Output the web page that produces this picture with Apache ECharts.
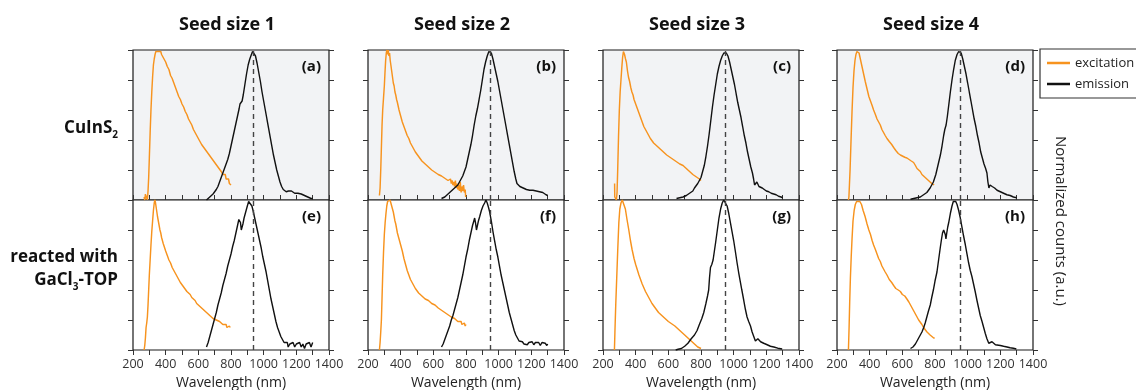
<!DOCTYPE html>
<html><head><meta charset="utf-8">
<script src="https://cdn.jsdelivr.net/npm/echarts@6/dist/echarts.min.js"></script>
<style>html,body{margin:0;padding:0;background:#fff}#c{width:1136px;height:390px}</style>
</head><body><div id="c"></div>
<script>
// ---------- text / categories ----------
const columnTitles = ['Seed size 1', 'Seed size 2', 'Seed size 3', 'Seed size 4'];
const panelLabels = [['(a)', '(b)', '(c)', '(d)'], ['(e)', '(f)', '(g)', '(h)']];
const seriesNames = ['excitation', 'emission'];
const xAxisName = 'Wavelength (nm)';
const yAxisName = 'Normalized counts (a.u.)';
const xMin = 200, xMax = 1400, xTickStep = 100, xLabelStep = 200;
const yMin = 0, yMax = 1, yTickStep = 0.2;
// emission peak of the seeds (dashed line), per column
const peakLines = [935, 947, 947, 955];

// ---------- data: [wavelength nm, normalized counts] ----------
const excA = [[268,0.02],[272,0.0],[276,0.04],[280,0.01],[284,0.03],[288,0.0],[292,0.06],[296,0.15],[300,0.28],[305,0.45],[310,0.6],[315,0.72],[320,0.82],[325,0.9],[330,0.94],[335,0.97],[340,0.99],[345,0.98],[350,1.0],[355,0.99],[360,1.0],[365,0.98],[370,0.99],[375,0.97],[380,0.96],[390,0.94],[400,0.92],[410,0.89],[420,0.87],[430,0.83],[440,0.81],[450,0.78],[460,0.75],[470,0.72],[480,0.69],[490,0.67],[500,0.64],[510,0.62],[520,0.59],[530,0.57],[540,0.54],[550,0.52],[560,0.5],[570,0.47],[580,0.46],[590,0.43],[600,0.41],[610,0.39],[620,0.37],[630,0.36],[640,0.34],[650,0.33],[660,0.31],[670,0.3],[680,0.28],[690,0.27],[700,0.25],[710,0.24],[720,0.22],[730,0.21],[740,0.19],[745,0.2],[750,0.17],[760,0.16],[765,0.17],[770,0.14],[780,0.13],[785,0.14],[790,0.11],[795,0.12],[800,0.1]];
const emA = [[650,0.0],[660,0.01],[670,0.02],[680,0.03],[690,0.04],[700,0.055],[710,0.07],[720,0.09],[730,0.12],[740,0.15],[750,0.18],[760,0.21],[770,0.24],[780,0.27],[790,0.31],[800,0.36],[810,0.41],[820,0.46],[830,0.51],[840,0.56],[850,0.61],[855,0.64],[860,0.65],[868,0.66],[875,0.7],[885,0.77],[895,0.84],[905,0.9],[915,0.94],[925,0.97],[932,0.99],[937,1.0],[942,0.99],[950,0.96],[960,0.91],[970,0.85],[980,0.79],[990,0.72],[1000,0.66],[1010,0.6],[1020,0.54],[1030,0.48],[1040,0.42],[1050,0.36],[1060,0.3],[1070,0.25],[1080,0.2],[1090,0.16],[1100,0.12],[1110,0.09],[1120,0.07],[1130,0.06],[1138,0.055],[1145,0.065],[1152,0.06],[1160,0.055],[1170,0.06],[1180,0.05],[1190,0.045],[1200,0.04],[1210,0.045],[1220,0.035],[1230,0.04],[1240,0.03],[1250,0.03],[1260,0.025],[1270,0.02],[1280,0.025],[1290,0.01],[1300,0.01]];
const excB = [[270,0.03],[274,0.08],[278,0.2],[282,0.35],[286,0.5],[290,0.6],[295,0.68],[300,0.76],[304,0.85],[308,0.93],[312,0.98],[316,1.0],[320,0.97],[324,1.0],[328,0.96],[332,0.98],[336,0.93],[340,0.9],[345,0.86],[350,0.82],[355,0.78],[360,0.76],[365,0.72],[370,0.7],[375,0.67],[380,0.65],[390,0.6],[400,0.56],[410,0.52],[420,0.49],[430,0.46],[440,0.43],[450,0.41],[460,0.38],[470,0.36],[480,0.34],[490,0.32],[500,0.31],[510,0.29],[520,0.28],[530,0.26],[540,0.25],[550,0.24],[560,0.23],[570,0.22],[580,0.21],[590,0.2],[600,0.19],[610,0.185],[620,0.18],[630,0.17],[640,0.165],[650,0.16],[660,0.15],[670,0.145],[680,0.14],[690,0.13],[700,0.12],[705,0.14],[710,0.11],[715,0.13],[720,0.1],[725,0.12],[730,0.09],[735,0.13],[740,0.08],[745,0.11],[750,0.07],[755,0.1],[760,0.06],[765,0.12],[770,0.05],[775,0.09],[780,0.06],[785,0.1],[790,0.05],[795,0.07],[798,0.02]];
const emB = [[650,0.01],[660,0.02],[670,0.02],[680,0.03],[690,0.04],[700,0.05],[710,0.06],[720,0.07],[730,0.08],[740,0.09],[750,0.1],[760,0.12],[770,0.14],[780,0.16],[790,0.19],[800,0.22],[810,0.27],[820,0.32],[830,0.37],[840,0.43],[850,0.5],[860,0.56],[870,0.61],[880,0.67],[890,0.73],[900,0.8],[910,0.87],[920,0.92],[930,0.96],[940,0.99],[947,1.0],[955,0.98],[965,0.94],[975,0.89],[985,0.84],[995,0.79],[1005,0.73],[1015,0.67],[1025,0.61],[1035,0.55],[1045,0.49],[1055,0.43],[1065,0.37],[1075,0.31],[1085,0.25],[1095,0.19],[1105,0.14],[1112,0.11],[1120,0.1],[1130,0.09],[1140,0.085],[1150,0.08],[1160,0.075],[1170,0.07],[1180,0.07],[1190,0.065],[1200,0.06],[1210,0.065],[1220,0.055],[1230,0.06],[1240,0.05],[1250,0.055],[1260,0.045],[1270,0.05],[1280,0.04],[1290,0.035],[1300,0.03]];
const excC = [[271,0.11],[272,0.02],[282,0.0],[286,0.05],[290,0.2],[295,0.42],[300,0.6],[305,0.72],[310,0.8],[315,0.88],[320,0.95],[325,0.99],[328,1.0],[332,0.97],[338,0.94],[343,0.92],[350,0.86],[356,0.82],[363,0.79],[370,0.75],[377,0.72],[384,0.7],[390,0.67],[400,0.64],[410,0.61],[420,0.58],[430,0.55],[440,0.52],[450,0.49],[460,0.47],[470,0.45],[480,0.43],[490,0.41],[500,0.4],[510,0.38],[520,0.37],[530,0.36],[540,0.35],[550,0.34],[560,0.33],[570,0.32],[580,0.31],[590,0.3],[600,0.29],[610,0.285],[620,0.28],[630,0.27],[640,0.26],[650,0.255],[660,0.25],[670,0.24],[680,0.235],[690,0.23],[700,0.22],[710,0.21],[720,0.2],[730,0.19],[740,0.18],[750,0.17],[760,0.16],[770,0.155],[780,0.15],[790,0.14],[800,0.13]];
const emC = [[650,0.01],[670,0.015],[690,0.02],[710,0.03],[730,0.045],[750,0.06],[760,0.08],[770,0.09],[780,0.11],[790,0.13],[800,0.15],[810,0.19],[820,0.23],[830,0.29],[840,0.36],[850,0.44],[860,0.53],[870,0.62],[880,0.7],[890,0.77],[900,0.84],[910,0.89],[920,0.93],[930,0.96],[940,0.98],[947,0.99],[955,0.98],[965,0.96],[975,0.92],[985,0.87],[995,0.82],[1005,0.77],[1015,0.71],[1025,0.65],[1035,0.6],[1045,0.55],[1055,0.49],[1065,0.43],[1075,0.38],[1085,0.32],[1095,0.27],[1105,0.22],[1115,0.18],[1122,0.14],[1128,0.1],[1135,0.1],[1142,0.12],[1148,0.11],[1155,0.09],[1165,0.085],[1175,0.08],[1185,0.07],[1200,0.06],[1215,0.055],[1230,0.045],[1245,0.04],[1260,0.035],[1275,0.025],[1290,0.02],[1300,0.015]];
const excD = [[270,0.0],[273,0.02],[280,0.2],[286,0.4],[292,0.59],[298,0.75],[304,0.86],[310,0.93],[316,0.97],[322,0.99],[328,1.0],[335,0.98],[343,0.94],[353,0.89],[363,0.84],[373,0.79],[384,0.74],[395,0.69],[405,0.66],[415,0.63],[424,0.6],[435,0.57],[445,0.54],[455,0.52],[465,0.5],[475,0.47],[485,0.45],[495,0.43],[506,0.41],[520,0.39],[535,0.37],[547,0.35],[560,0.33],[575,0.31],[588,0.3],[600,0.29],[615,0.285],[628,0.28],[640,0.27],[655,0.26],[669,0.25],[680,0.23],[690,0.21],[700,0.2],[710,0.19],[720,0.17],[730,0.16],[740,0.15],[751,0.14],[760,0.13],[770,0.12],[780,0.11],[795,0.1]];
const emD = [[650,0.005],[670,0.01],[690,0.015],[710,0.02],[730,0.035],[750,0.05],[770,0.08],[790,0.12],[805,0.17],[820,0.24],[833,0.3],[843,0.36],[853,0.43],[860,0.47],[868,0.5],[876,0.56],[885,0.64],[894,0.72],[904,0.8],[914,0.87],[924,0.93],[935,0.97],[945,0.99],[952,1.0],[960,0.98],[970,0.94],[980,0.89],[990,0.84],[1000,0.78],[1010,0.72],[1020,0.66],[1030,0.6],[1040,0.54],[1050,0.49],[1060,0.43],[1070,0.38],[1080,0.32],[1090,0.28],[1100,0.24],[1110,0.21],[1118,0.18],[1124,0.12],[1130,0.08],[1137,0.1],[1143,0.11],[1150,0.09],[1157,0.1],[1165,0.08],[1180,0.065],[1200,0.055],[1220,0.045],[1240,0.035],[1260,0.03],[1280,0.02],[1300,0.015]];
const excE = [[268,0.0],[272,0.03],[276,0.08],[280,0.15],[284,0.18],[288,0.22],[292,0.3],[296,0.4],[300,0.5],[305,0.6],[310,0.7],[315,0.79],[320,0.86],[325,0.93],[330,0.98],[334,1.0],[338,0.98],[342,0.95],[346,0.92],[350,0.89],[355,0.86],[360,0.83],[365,0.8],[370,0.78],[375,0.75],[380,0.74],[385,0.71],[390,0.7],[400,0.66],[410,0.63],[420,0.6],[430,0.58],[440,0.55],[450,0.53],[460,0.51],[470,0.49],[480,0.47],[490,0.45],[500,0.44],[510,0.42],[520,0.41],[530,0.39],[540,0.38],[550,0.37],[560,0.35],[570,0.34],[580,0.33],[590,0.31],[600,0.3],[610,0.29],[620,0.28],[630,0.27],[640,0.26],[650,0.25],[660,0.24],[670,0.23],[680,0.22],[690,0.21],[700,0.21],[710,0.2],[720,0.19],[730,0.19],[740,0.18],[750,0.17],[755,0.18],[760,0.16],[770,0.17],[775,0.15],[780,0.16],[785,0.14],[790,0.16],[795,0.15],[800,0.16]];
const emE = [[650,0.02],[660,0.05],[670,0.09],[680,0.13],[690,0.17],[700,0.21],[710,0.25],[720,0.3],[730,0.34],[740,0.38],[750,0.43],[760,0.47],[770,0.51],[780,0.56],[790,0.6],[800,0.64],[810,0.69],[820,0.73],[830,0.78],[840,0.83],[848,0.87],[853,0.88],[858,0.85],[863,0.8],[868,0.79],[873,0.84],[880,0.88],[890,0.92],[900,0.96],[908,0.99],[914,1.0],[920,0.98],[928,0.96],[935,0.93],[945,0.88],[955,0.83],[965,0.78],[975,0.73],[985,0.68],[995,0.62],[1005,0.57],[1015,0.52],[1025,0.46],[1035,0.4],[1045,0.34],[1055,0.29],[1065,0.24],[1075,0.19],[1085,0.15],[1095,0.12],[1105,0.09],[1115,0.07],[1125,0.05],[1135,0.04],[1145,0.05],[1150,0.02],[1160,0.04],[1170,0.03],[1180,0.05],[1190,0.02],[1200,0.04],[1210,0.03],[1220,0.05],[1230,0.02],[1240,0.04],[1250,0.01],[1260,0.04],[1270,0.03],[1280,0.05],[1290,0.02],[1300,0.05]];
const excF = [[270,0.0],[274,0.05],[278,0.12],[282,0.2],[286,0.35],[290,0.5],[295,0.65],[300,0.77],[305,0.85],[310,0.91],[315,0.96],[320,0.99],[325,1.0],[330,0.99],[335,1.0],[340,0.98],[345,0.97],[350,0.94],[355,0.92],[360,0.89],[365,0.86],[370,0.84],[375,0.81],[380,0.78],[390,0.74],[400,0.7],[410,0.66],[420,0.61],[430,0.57],[440,0.53],[450,0.5],[460,0.47],[470,0.45],[480,0.43],[490,0.41],[500,0.4],[510,0.38],[520,0.37],[530,0.36],[540,0.35],[550,0.34],[560,0.335],[570,0.33],[580,0.32],[590,0.31],[600,0.3],[610,0.3],[620,0.29],[630,0.28],[640,0.27],[650,0.265],[660,0.26],[670,0.25],[680,0.24],[690,0.235],[700,0.23],[710,0.22],[720,0.21],[730,0.21],[740,0.2],[750,0.19],[755,0.2],[760,0.18],[770,0.19],[775,0.17],[780,0.18],[785,0.16],[790,0.18],[795,0.16],[800,0.17]];
const emF = [[650,0.02],[660,0.04],[670,0.07],[680,0.1],[690,0.13],[700,0.16],[710,0.2],[720,0.23],[730,0.27],[740,0.31],[750,0.35],[760,0.4],[770,0.45],[780,0.5],[790,0.56],[800,0.62],[810,0.67],[820,0.73],[830,0.78],[840,0.83],[848,0.86],[853,0.88],[858,0.85],[864,0.8],[870,0.81],[876,0.86],[884,0.89],[894,0.93],[904,0.96],[914,0.98],[922,1.0],[930,0.98],[938,0.95],[945,0.92],[955,0.86],[965,0.79],[975,0.73],[985,0.67],[995,0.62],[1005,0.56],[1015,0.5],[1025,0.45],[1035,0.4],[1045,0.35],[1055,0.3],[1065,0.25],[1075,0.21],[1085,0.17],[1095,0.13],[1105,0.1],[1115,0.08],[1125,0.06],[1135,0.05],[1145,0.055],[1155,0.04],[1165,0.05],[1175,0.035],[1185,0.05],[1195,0.04],[1205,0.055],[1215,0.035],[1225,0.05],[1235,0.04],[1245,0.05],[1255,0.03],[1265,0.05],[1275,0.04],[1285,0.045],[1295,0.03],[1300,0.04]];
const excG = [[270,0.0],[273,0.12],[278,0.3],[284,0.48],[290,0.66],[297,0.85],[303,0.94],[310,0.98],[318,1.0],[326,0.99],[337,0.94],[347,0.87],[358,0.8],[368,0.73],[378,0.67],[390,0.61],[400,0.57],[420,0.5],[440,0.44],[460,0.39],[480,0.35],[500,0.31],[520,0.28],[540,0.25],[560,0.23],[580,0.21],[600,0.19],[620,0.175],[640,0.16],[660,0.14],[680,0.12],[700,0.1],[720,0.08],[740,0.06],[760,0.04],[780,0.02],[800,0.01]];
const emG = [[645,0.0],[660,0.005],[680,0.01],[700,0.025],[720,0.045],[740,0.075],[760,0.1],[776,0.13],[790,0.17],[805,0.21],[817,0.25],[830,0.31],[840,0.36],[847,0.4],[852,0.48],[858,0.55],[866,0.57],[874,0.6],[882,0.66],[890,0.72],[900,0.8],[910,0.88],[920,0.94],[930,0.98],[939,1.0],[948,0.99],[960,0.96],[970,0.91],[980,0.85],[990,0.79],[1000,0.73],[1010,0.66],[1021,0.58],[1030,0.52],[1040,0.46],[1050,0.4],[1062,0.33],[1072,0.27],[1082,0.22],[1092,0.19],[1103,0.16],[1113,0.12],[1123,0.09],[1133,0.06],[1140,0.06],[1148,0.075],[1155,0.065],[1165,0.055],[1184,0.045],[1205,0.035],[1225,0.025],[1246,0.02],[1270,0.012],[1297,0.007]];
const excH = [[270,0.0],[274,0.15],[278,0.33],[282,0.48],[287,0.62],[292,0.74],[298,0.86],[305,0.93],[312,0.97],[320,0.99],[330,1.0],[340,0.99],[350,0.97],[360,0.93],[372,0.89],[384,0.84],[395,0.8],[405,0.77],[415,0.73],[424,0.7],[435,0.67],[445,0.64],[455,0.61],[465,0.59],[475,0.56],[485,0.54],[495,0.52],[506,0.5],[520,0.47],[535,0.45],[547,0.43],[560,0.41],[575,0.4],[588,0.39],[600,0.37],[615,0.36],[628,0.34],[640,0.32],[650,0.3],[660,0.28],[670,0.26],[680,0.24],[690,0.22],[700,0.2],[710,0.19],[720,0.17],[730,0.15],[740,0.14],[751,0.12],[760,0.11],[770,0.1],[780,0.09],[792,0.08],[798,0.08]];
const emH = [[650,0.01],[665,0.02],[680,0.04],[690,0.06],[700,0.08],[710,0.1],[720,0.12],[731,0.15],[740,0.18],[750,0.22],[760,0.26],[771,0.3],[780,0.35],[790,0.4],[800,0.46],[812,0.52],[822,0.6],[832,0.68],[840,0.74],[846,0.78],[853,0.8],[858,0.81],[863,0.77],[867,0.74],[872,0.78],[878,0.82],[884,0.85],[894,0.91],[904,0.96],[912,0.99],[920,1.0],[927,0.99],[935,0.97],[945,0.93],[955,0.88],[965,0.82],[975,0.76],[986,0.7],[996,0.64],[1006,0.58],[1016,0.53],[1026,0.49],[1036,0.44],[1046,0.39],[1057,0.33],[1067,0.28],[1077,0.23],[1088,0.19],[1098,0.15],[1108,0.11],[1118,0.075],[1129,0.045],[1140,0.05],[1149,0.055],[1158,0.045],[1170,0.035],[1180,0.03],[1200,0.03],[1220,0.025],[1241,0.02],[1260,0.015],[1280,0.012],[1298,0.007]];

const excitationRows = [[excA, excB, excC, excD], [excE, excF, excG, excH]];
const emissionRows = [[emA, emB, emC, emD], [emE, emF, emG, emH]];

// ---------- layout & style ----------
const FONT = '"Open Sans", "Noto Sans", sans-serif';
const ORANGE = '#f7931e', BLACK = '#111111';
const lefts = [133, 368, 603, 837], W = 196;
const tops = [50, 200], H = 150;

const grid = [], xAxis = [], yAxis = [], series = [], graphic = [];
const tickStyle = { show: true, inside: false, length: 5, lineStyle: { color: '#333', width: 1 } };

for (let r = 0; r < 2; r++) {
  for (let c = 0; c < 4; c++) {
    const gi = r * 4 + c;
    grid.push({
      left: lefts[c], top: tops[r], width: W, height: H,
      show: true, backgroundColor: r === 0 ? '#f2f3f5' : '#ffffff',
      borderColor: '#1a1a1a', borderWidth: 1.2, containLabel: false, outerBoundsMode: 'none'
    });
    xAxis.push({
      type: 'value', gridIndex: gi, min: xMin, max: xMax, interval: xTickStep,
      position: r === 0 ? 'top' : 'bottom',
      axisLine: { show: false }, axisTick: tickStyle, splitLine: { show: false },
      axisLabel: r === 0 ? { show: false } : {
        show: true, margin: 8, color: '#333', fontSize: 12.5, fontFamily: FONT,
        formatter: v => (v % xLabelStep === 0 ? String(v) : '')
      },
      name: r === 1 ? xAxisName : '', nameLocation: 'middle', nameGap: 26,
      nameTextStyle: { fontSize: 14, fontFamily: FONT, color: '#222' }
    });
    for (const pos of ['left', 'right']) {
      yAxis.push({
        type: 'value', gridIndex: gi, min: yMin, max: yMax, interval: yTickStep, position: pos,
        axisLine: { show: false }, axisTick: tickStyle, axisLabel: { show: false }, splitLine: { show: false }
      });
    }
    series.push({
      type: 'line', name: seriesNames[0], xAxisIndex: gi, yAxisIndex: 2 * gi,
      data: excitationRows[r][c], symbol: 'none', clip: false, color: ORANGE,
      lineStyle: { color: ORANGE, width: 1.45 }, z: 3
    });
    series.push({
      type: 'line', name: seriesNames[1], xAxisIndex: gi, yAxisIndex: 2 * gi,
      data: emissionRows[r][c], symbol: 'none', clip: false, color: BLACK,
      lineStyle: { color: BLACK, width: 1.4 }, z: 4,
      markLine: {
        silent: true, symbol: ['none', 'none'], label: { show: false }, animation: false,
        lineStyle: { color: '#444', width: 1.4, type: [5, 4] },
        data: [{ xAxis: peakLines[c] }]
      }
    });
    graphic.push({
      type: 'text', x: lefts[c] + W - 8, y: tops[r] + 17,
      style: { text: panelLabels[r][c], fontSize: 15, fontWeight: 'bold', fontFamily: FONT, fill: '#111',
               align: 'right', verticalAlign: 'middle', textAlign: 'right', textVerticalAlign: 'middle' }
    });
  }
}

columnTitles.forEach((t, c) => {
  graphic.push({
    type: 'text', x: lefts[c] + W / 2 - 4, y: 25,
    style: { text: t, fontSize: 18, fontWeight: 'bold', fontFamily: FONT, fill: '#111',
             align: 'center', verticalAlign: 'middle', textAlign: 'center', textVerticalAlign: 'middle' }
  });
});

const rowLabelStyle = (text, y) => ({
  type: 'text', x: 118, y: y,
  style: {
    text: text, fontSize: 17, fontWeight: 'bold', fontFamily: FONT, fill: '#111', lineHeight: 24,
    align: 'right', verticalAlign: 'middle', textAlign: 'right', textVerticalAlign: 'middle',
    rich: { sub: { fontSize: 10, fontWeight: 'bold', fontFamily: FONT, fill: '#111', lineHeight: 10, verticalAlign: 'bottom' } }
  }
});
graphic.push(rowLabelStyle('CuInS{sub|2}', 128));
graphic.push(rowLabelStyle('reacted with', 257));
graphic.push(rowLabelStyle('GaCl{sub|3}-TOP', 280));

graphic.push({
  type: 'text', x: 1060, y: 221, rotation: -Math.PI / 2,
  style: { text: yAxisName, fontSize: 15, fontFamily: FONT, fill: '#222',
           align: 'center', verticalAlign: 'middle', textAlign: 'center', textVerticalAlign: 'middle' }
});

const chart = echarts.init(document.getElementById('c'), null, { renderer: 'canvas' });
chart.setOption({
  animation: false,
  backgroundColor: '#ffffff',
  legend: {
    data: seriesNames, orient: 'vertical', left: 1040, top: 49,
    padding: [7, 40, 7, 7], itemGap: 7, itemWidth: 23, itemHeight: 2.5,
    icon: 'rect',
    borderColor: '#333', borderWidth: 1.2, backgroundColor: '#fff',
    textStyle: { fontSize: 13, fontFamily: FONT, color: '#222', lineHeight: 14, height: 14 }
  },
  grid, xAxis, yAxis, series, graphic
});
</script>
</body></html>
